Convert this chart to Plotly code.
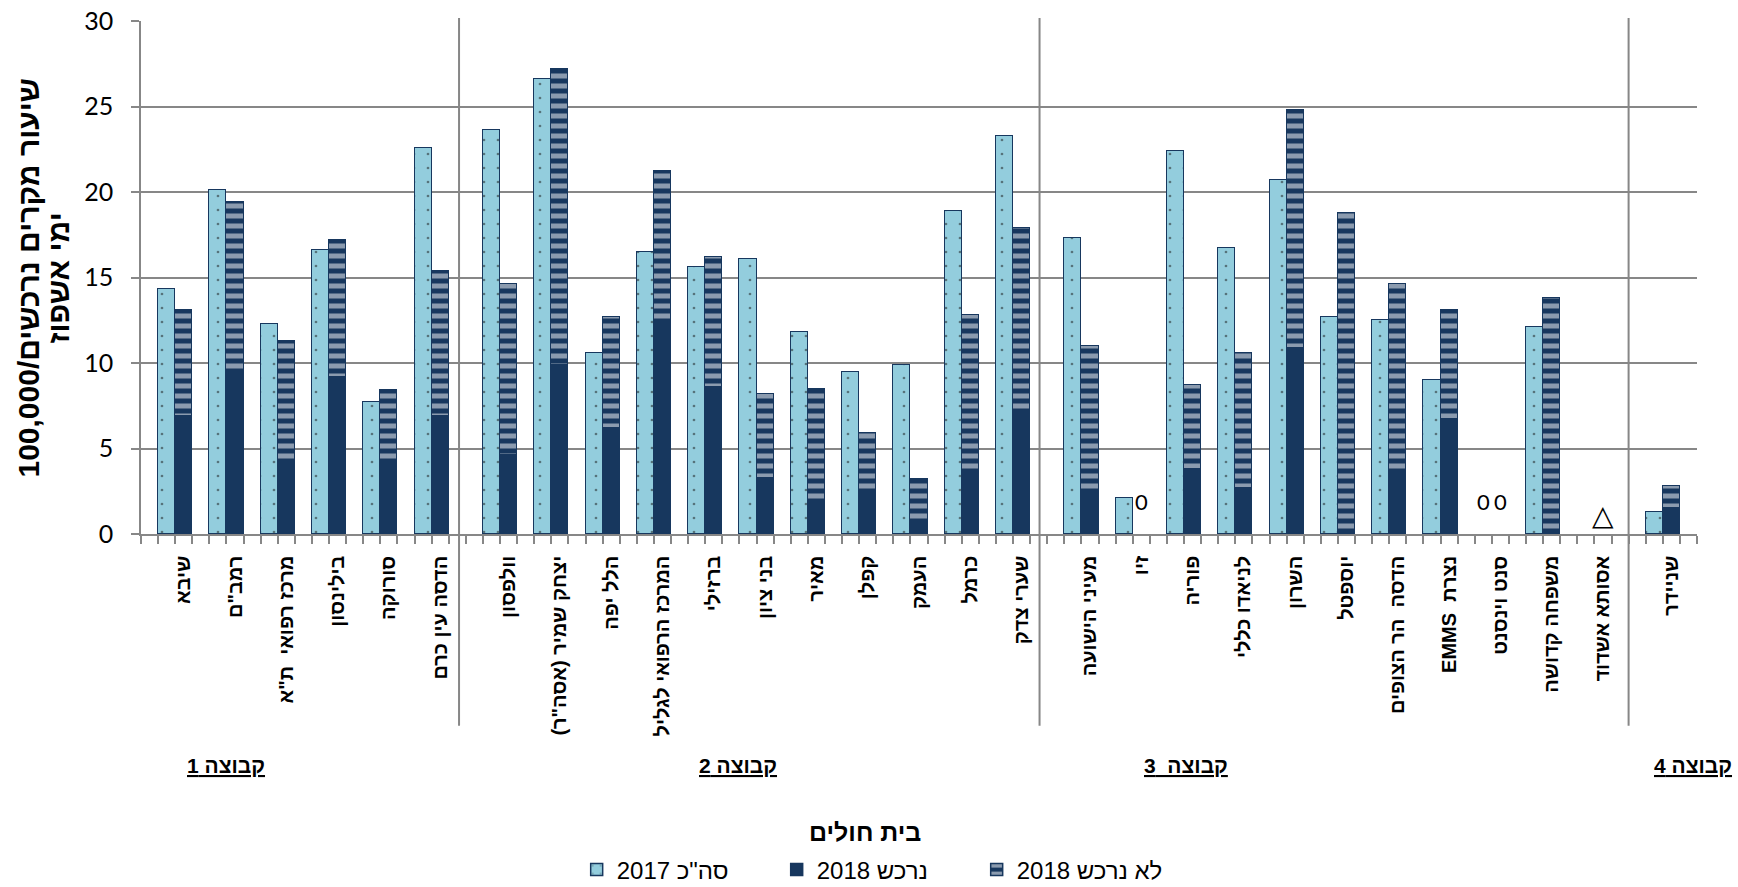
import plotly.graph_objects as go

# ---------------- data ----------------
group_labels = ["קבוצה 1", "קבוצה 2", "קבוצה  3", "קבוצה 4"]

group1 = ["שיבא", "רמב\"ם", "מרכז רפואי  ת\"א", "בילינסון", "סורוקה", "הדסה עין כרם"]
group2 = ["וולפסון", "יצחק שמיר (אסה\"ר)", "הלל יפה", "המרכז הרפואי לגליל", "ברזילי",
          "בני ציון", "מאיר", "קפלן", "העמק", "כרמל", "שערי צדק"]
group3 = ["מעיני הישועה", "זיו", "פוריה", "לניאדו כללי", "השרון", "יוספטל",
          "הדסה  הר הצופים", "נצרת  EMMS", "סנט וינסנט", "משפחה קדושה", "אסותא אשדוד"]
group4 = ["שניידר"]

total_2017 = [14.3, 20.1, 12.3, 16.6, 7.7, 22.6,
              23.6, 26.6, 10.6, 16.5, 15.6, 16.1, 11.8, 9.5, 9.9, 18.9, 23.3,
              17.3, 2.1, 22.4, 16.7, 20.7, 12.7, 12.5, 9.0, 0, 12.1, None,
              1.3]
bought_2018 = [6.9, 9.5, 4.3, 9.2, 4.3, 6.9,
               4.6, 9.9, 6.2, 12.3, 8.6, 3.3, 1.8, 2.4, 0.6, 3.6, 7.2,
               2.4, 0, 3.8, 2.7, 10.9, 0, 3.5, 6.7, 0, 0, None,
               1.5]
not_bought_2018 = [6.2, 9.9, 7.0, 8.0, 4.1, 8.5,
                   10.0, 17.3, 6.5, 8.9, 7.6, 4.9, 6.7, 3.5, 2.6, 9.2, 10.7,
                   8.6, 0, 4.9, 7.9, 13.9, 18.8, 11.1, 6.4, 0, 13.8, None,
                   1.3]
# data labels shown in the chart
label_2017 = [""] * 6 + [""] * 11 + ["", "", "", "", "", "", "", "", "0", "", ""] + [""]
label_2018 = [""] * 6 + [""] * 11 + ["", "0", "", "", "", "", "", "", "0", "", "△"] + [""]

series_names = ["2017 סה\"כ", "2018 נרכש", "2018 לא נרכש"]
y_title_lines = ["שיעור מקרים נרכשים/100,000", "ימי אשפוז"]
x_title = "בית חולים"

# ---------------- layout helpers ----------------
RLE, PDF = "\u202b", "\u202c"
groups = [group1, group2, group3, group4]

names, x17, x18 = [], [], []
n = 0
for g, hs in enumerate(groups):
    for h in hs:
        s = 1 + 3 * n + g
        x17.append(s + 0.5)
        x18.append(s + 1.5)
        names.append(RLE + h + PDF)
        n += 1

NAVY = "#17375E"
LIGHT = "#93CDDD"
GRID = "#878787"
HEB = "Arial, 'Liberation Sans', 'DejaVu Sans', sans-serif"
NUM = "Lato, Carlito, 'Open Sans', sans-serif"


def line_w(vals):
    return [0 if (v is None or v == 0) else 1.5 for v in vals]


fig = go.Figure()
fig.add_trace(go.Bar(
    x=x17, y=total_2017, width=1, name=series_names[0],
    marker=dict(color=LIGHT, line=dict(color=NAVY, width=line_w(total_2017)),
                pattern=dict(shape=".", fgcolor="#1a1a1a", bgcolor=LIGHT,
                             size=14, solidity=0.03)),
))
fig.add_trace(go.Bar(
    x=x18, y=bought_2018, width=1, name=series_names[1],
    marker=dict(color=NAVY, line=dict(color=NAVY, width=line_w(bought_2018))),
))
fig.add_trace(go.Bar(
    x=x18, y=not_bought_2018, width=1, name=series_names[2],
    marker=dict(color=NAVY, line=dict(color=NAVY, width=line_w(not_bought_2018)),
                pattern=dict(shape="-", fgcolor="white", bgcolor=NAVY,
                             size=10, solidity=0.5)),
))

annotations = []
for xs, lbls in ((x17, label_2017), (x18, label_2018)):
    for xv, t in zip(xs, lbls):
        if not t:
            continue
        if t == "△":
            annotations.append(dict(x=xv, y=0, xref="x", yref="y", text=t, showarrow=False,
                                    yanchor="middle", yshift=19,
                                    font=dict(family="DejaVu Sans", size=28, color="black")))
        else:
            annotations.append(dict(x=xv, y=0, xref="x", yref="y", text=t, showarrow=False,
                                    yanchor="middle", yshift=33,
                                    font=dict(family=NUM, size=22, color="black")))

# group labels
grp_x = [5.0, 34.9, 61.1]
for gx, gl in zip(grp_x, group_labels[:3]):
    annotations.append(dict(x=gx, y=-0.452, xref="x", yref="paper", text="<u>" + gl + "</u>",
                            showarrow=False, xanchor="center", yanchor="middle",
                            font=dict(family=HEB, size=21, color="black", weight="bold")))
annotations.append(dict(x=1.0, y=-0.452, xref="paper", yref="paper", text="<u>" + group_labels[3] + "</u>",
                        showarrow=False, xanchor="right", yanchor="middle", xshift=37,
                        font=dict(family=HEB, size=21, color="black", weight="bold")))

# axis titles
annotations.append(dict(x=0.465, y=-0.58, xref="paper", yref="paper", text=x_title,
                        showarrow=False, xanchor="center", yanchor="middle",
                        font=dict(family=HEB, size=25, color="black", weight="bold")))
for xp, t in zip([-0.0726, -0.0527], y_title_lines):
    annotations.append(dict(x=xp, y=0.5, xref="paper", yref="paper", textangle=-90,
                            text=RLE + t + PDF,
                            showarrow=False, xanchor="center", yanchor="middle",
                            font=dict(family=HEB, size=30, color="black", weight="bold")))

shapes = []
for sx in [18.6, 52.55, 87.0]:
    shapes.append(dict(type="line", xref="x", yref="paper", x0=sx, x1=sx, y0=-0.374, y1=1.006,
                       line=dict(color=GRID, width=2)))

fig.update_layout(
    width=1738, height=887, autosize=False,
    margin=dict(l=141, r=41, t=21, b=353, autoexpand=False),
    plot_bgcolor="white", paper_bgcolor="white",
    barmode="stack", bargap=0,
    showlegend=True,
    legend=dict(orientation="h", x=0.280, y=-0.655, xanchor="left", yanchor="middle",
                font=dict(family=HEB, size=24, color="black"),
                entrywidth=155, entrywidthmode="pixels", traceorder="normal"),
    annotations=annotations,
    shapes=shapes,
)
fig.update_xaxes(
    range=[0, 91], showgrid=False, zeroline=False,
    showline=True, linecolor=GRID, linewidth=1.5,
    tickmode="array", tickvals=x18, ticktext=names, tickangle=-90,
    ticks="", ticklabelstandoff=12, ticklabeloverflow="allow",
    tickfont=dict(family=HEB, size=20, color="black", weight="bold"),
    minor=dict(tickmode="linear", tick0=0, dtick=1, ticks="outside", ticklen=8,
               tickcolor=GRID, tickwidth=1.5, showgrid=False),
)
fig.update_yaxes(
    range=[0, 30], dtick=5, showgrid=True, gridcolor=GRID, gridwidth=1.5,
    zeroline=False, showline=True, linecolor=GRID, linewidth=1.5,
    ticks="outside", ticklen=8, tickcolor=GRID, tickwidth=1.5, ticklabelstandoff=13,
    ticklabeloverflow="allow",
    tickfont=dict(family=NUM, size=25, color="black"),
)

fig.write_html("out.html", config={"displayModeBar": False},
               post_script="document.body.style.margin='0px';")
